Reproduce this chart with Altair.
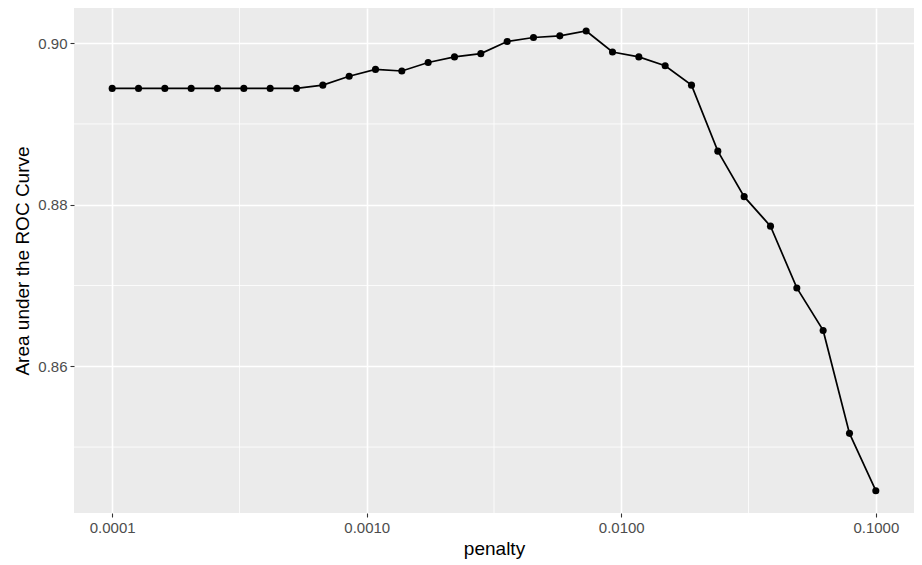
import altair as alt
import pandas as pd

penalty = [0.0001, 0.00012690, 0.00016103, 0.00020434, 0.00025929, 0.00032903,
           0.00041753, 0.00052983, 0.00067234, 0.00085317, 0.0010826, 0.0013738,
           0.0017433, 0.0022122, 0.0028072, 0.0035622, 0.0045204, 0.0057362,
           0.0072790, 0.0092367, 0.011721, 0.014874, 0.018874, 0.023950,
           0.030392, 0.038566, 0.048939, 0.062102, 0.078805, 0.1]
roc_auc = [0.8944, 0.8944, 0.8944, 0.8944, 0.8944, 0.8944, 0.8944, 0.8944,
           0.8948, 0.8959, 0.89675, 0.89655, 0.8976, 0.8983, 0.8987, 0.9002,
           0.9007, 0.9009, 0.9015, 0.8989, 0.8983, 0.8972, 0.8948, 0.88663,
           0.8810, 0.87735, 0.8697, 0.86444, 0.8517, 0.8446]

x_major = [0.0001, 0.001, 0.01, 0.1]
x_minor = [0.00031623, 0.0031623, 0.031623]
y_major = [0.86, 0.88, 0.90]
y_minor = [0.85, 0.87, 0.89]

df = pd.DataFrame({"penalty": penalty, "roc_auc": roc_auc})
xminor_df = pd.DataFrame({"v": x_minor})
yminor_df = pd.DataFrame({"v": y_minor})

x_dom = [10 ** -4.15, 10 ** -0.85]
y_dom = [0.84184, 0.90435]

xscale = alt.Scale(type="log", domain=x_dom, nice=False)
yscale = alt.Scale(domain=y_dom, nice=False, zero=False)

xminor = alt.Chart(xminor_df).mark_rule(color="white", strokeWidth=0.8).encode(
    x=alt.X("v:Q", scale=xscale)
)
yminor = alt.Chart(yminor_df).mark_rule(color="white", strokeWidth=0.8).encode(
    y=alt.Y("v:Q", scale=yscale)
)

x_enc = alt.X(
    "penalty:Q", scale=xscale, title="penalty",
    axis=alt.Axis(values=x_major, format=".4f", grid=True, gridColor="white",
                  gridWidth=1.6, domain=False, tickColor="#333333", tickSize=4,
                  tickWidth=1.1, labelColor="#4D4D4D", labelFontSize=15,
                  labelPadding=3, titleFontSize=19, titleColor="black",
                  titleFontWeight="normal", titlePadding=4, labelFlush=False)
)
y_enc = alt.Y(
    "roc_auc:Q", scale=yscale, title="Area under the ROC Curve",
    axis=alt.Axis(values=y_major, format=".2f", grid=True, gridColor="white",
                  gridWidth=1.6, domain=False, tickColor="#333333", tickSize=4,
                  tickWidth=1.1, labelColor="#4D4D4D", labelFontSize=15,
                  labelPadding=3, titleFontSize=19, titleColor="black",
                  titleFontWeight="normal", titlePadding=5, labelFlush=False)
)

base = alt.Chart(df).encode(x=x_enc, y=y_enc)
line = base.mark_line(color="black", strokeWidth=1.7)
pts = base.mark_circle(color="black", opacity=1, size=50)

chart = alt.layer(xminor, yminor, line, pts).properties(
    width=840, height=505,
    padding={"left": 66, "top": 0, "right": 0, "bottom": 52},
    autosize=alt.AutoSizeParams(type="none"),
).configure(
    font="Liberation Sans", background="white"
).configure_view(
    fill="#EBEBEB", strokeWidth=0, stroke=None
)

chart.save("out.html", embed_options={"renderer": "svg", "actions": False})
